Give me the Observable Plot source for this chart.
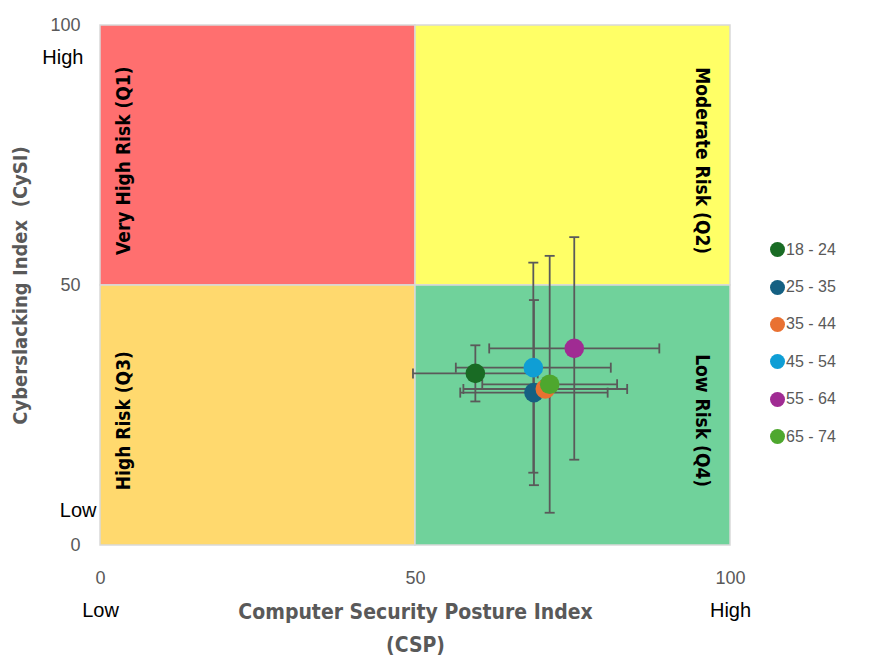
<!DOCTYPE html>
<html>
<head>
<meta charset="utf-8">
<script src="https://cdn.jsdelivr.net/npm/d3@7"></script>
<script src="https://cdn.jsdelivr.net/npm/@observablehq/plot@0.6"></script>
<style>
  html, body { margin: 0; padding: 0; background: #fff; }
  #wrap { position: relative; width: 893px; height: 667px; }
  #legend { position: absolute; left: 770px; top: 231px; font-family: "Liberation Sans", Arial, sans-serif; font-size: 16px; color: #595959; }
  #legend .item { display: flex; align-items: center; height: 37.4px; }
  #legend .sw { width: 15px; height: 15px; border-radius: 50%; margin-right: 1px; }
</style>
</head>
<body>
<div id="wrap"><div id="legend"></div></div>
<script>
// Age groups and their mean index scores with error margins
const ageGroups = ["18 - 24", "25 - 35", "35 - 44", "45 - 54", "55 - 64", "65 - 74"];
const groupColors = ["#196B24", "#156082", "#E97132", "#0F9ED5", "#A02B93", "#4EA72E"];
const cspMean  = [59.5, 68.8, 70.6, 68.7, 75.2, 71.3];
const cysiMean = [33.1, 29.4, 30.1, 34.2, 37.9, 31.0];
const cspErr   = [9.9, 11.7, 13.0, 12.3, 13.5, 10.7];
const cysiErr  = [5.4, 17.8, 1.5, 20.2, 21.4, 24.7];

// Risk quadrants
const quadNames  = ["Very High Risk (Q1)", "Moderate Risk (Q2)", "High Risk (Q3)", "Low Risk (Q4)"];
const quadColors = ["#FF6F6F", "#FFFF66", "#FFD96E", "#70D29B"];
const quadX = [[0, 50], [50, 100], [0, 50], [50, 100]];
const quadY = [[50, 100], [50, 100], [0, 50], [0, 50]];

const ticks = [0, 50, 100];

const rows = ageGroups.map((g, i) => ({
  group: g, color: groupColors[i],
  x: cspMean[i], y: cysiMean[i], ex: cspErr[i], ey: cysiErr[i]
}));
const quads = quadNames.map((name, i) => ({
  name, fill: quadColors[i],
  x1: quadX[i][0], x2: quadX[i][1], y1: quadY[i][0], y2: quadY[i][1],
  left: quadX[i][0] === 0
}));

// error bar end caps
const capH = { draw(ctx) { ctx.moveTo(-5, 0); ctx.lineTo(5, 0); } };
const capV = { draw(ctx) { ctx.moveTo(0, -5); ctx.lineTo(0, 5); } };
const vEnds = rows.flatMap(d => [{ x: d.x, y: d.y - d.ey }, { x: d.x, y: d.y + d.ey }]);
const hEnds = rows.flatMap(d => [{ x: d.x - d.ex, y: d.y }, { x: d.x + d.ex, y: d.y }]);

const bar = "#5a5a5a";
const titleFont = "'Liberation Sans Narrow', 'DejaVu Sans Condensed', 'Liberation Sans', sans-serif";

const chart = Plot.plot({
  width: 893,
  height: 667,
  marginLeft: 100,
  marginRight: 163,
  marginTop: 25,
  marginBottom: 122,
  x: { domain: [0, 100], axis: null },
  y: { domain: [0, 100], axis: null },
  style: { fontFamily: "'Liberation Sans', Arial, sans-serif", background: "#fff", overflow: "visible" },
  marks: [
    Plot.rect(quads, { x1: "x1", x2: "x2", y1: "y1", y2: "y2", fill: "fill", stroke: "#d9d9d9", strokeWidth: 1.5 }),
    Plot.text(quads.filter(d => d.left), {
      x: "x1", y: d => (d.y1 + d.y2) / 2 - 1, text: "name", rotate: -90, dx: 23,
      fontFamily: titleFont, fontWeight: "bold", fontSize: 19, fill: "#000"
    }),
    Plot.text(quads.filter(d => !d.left), {
      x: "x2", y: d => (d.y1 + d.y2) / 2 - 1, text: "name", rotate: 90, dx: -28,
      fontFamily: titleFont, fontWeight: "bold", fontSize: 19, fill: "#000"
    }),
    // error bars
    Plot.link(rows, { x1: d => d.x - d.ex, x2: d => d.x + d.ex, y1: "y", y2: "y", stroke: bar, strokeWidth: 1.8 }),
    Plot.link(rows, { x1: "x", x2: "x", y1: d => d.y - d.ey, y2: d => d.y + d.ey, stroke: bar, strokeWidth: 1.8 }),
    Plot.dot(vEnds, { x: "x", y: "y", symbol: capH, r: 5, stroke: bar, strokeWidth: 1.8, fill: "none" }),
    Plot.dot(hEnds, { x: "x", y: "y", symbol: capV, r: 5, stroke: bar, strokeWidth: 1.8, fill: "none" }),
    Plot.dot(rows, { x: "x", y: "y", r: 9.8, fill: "color" }),
    // tick labels
    Plot.text(ticks, { x: d => d, frameAnchor: "bottom", dy: 38, textAnchor: "middle", text: d => String(d), fontSize: 18, fill: "#595959" }),
    Plot.text(ticks, { y: d => d, frameAnchor: "left", dx: -20, textAnchor: "end", text: d => String(d), fontSize: 18, fill: "#595959" }),
    Plot.text(["Low", "High"], { x: (d, i) => i * 100, frameAnchor: "bottom", dy: 71, textAnchor: "middle", text: d => d, fontSize: 20, fill: "#000" }),
    Plot.text(["High"], { y: 100, frameAnchor: "left", dx: -17, dy: 32, textAnchor: "end", text: d => d, fontSize: 20, fill: "#000" }),
    Plot.text(["Low"], { y: 0, frameAnchor: "left", dx: -4, dy: -35, textAnchor: "end", text: d => d, fontSize: 20, fill: "#000" }),
    // axis titles
    Plot.text(["Computer Security Posture Index"], {
      x: 50, frameAnchor: "bottom", dy: 73, textAnchor: "middle", text: d => d,
      fontFamily: titleFont, fontWeight: "bold", fontSize: 21, fill: "#595959"
    }),
    Plot.text(["(CSP)"], {
      x: 50, frameAnchor: "bottom", dy: 106, textAnchor: "middle", text: d => d,
      fontFamily: titleFont, fontWeight: "bold", fontSize: 21, fill: "#595959"
    }),
    Plot.text(["Cyberslacking Index  (CySI)"], {
      y: 50, frameAnchor: "left", dx: -80, rotate: -90, textAnchor: "middle", text: d => d,
      fontFamily: titleFont, fontWeight: "bold", fontSize: 20, fill: "#595959"
    })
  ]
});

const wrap = document.getElementById("wrap");
wrap.insertBefore(chart, wrap.firstChild);

// age-group legend to the right of the plot
const legend = document.getElementById("legend");
ageGroups.forEach((g, i) => {
  const item = document.createElement("div");
  item.className = "item";
  const sw = document.createElement("span");
  sw.className = "sw";
  sw.style.background = groupColors[i];
  const label = document.createElement("span");
  label.textContent = g;
  item.appendChild(sw);
  item.appendChild(label);
  legend.appendChild(item);
});
</script>
</body>
</html>
